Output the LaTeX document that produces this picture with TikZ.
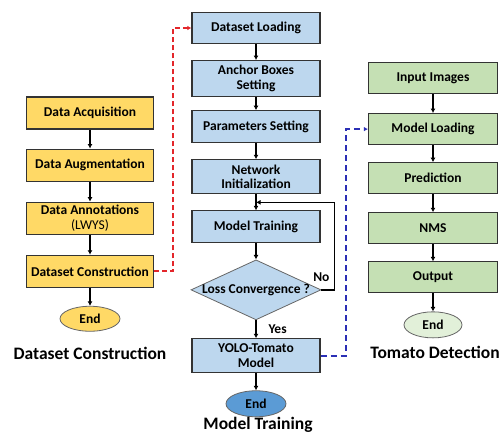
\documentclass[tikz,border=0pt]{standalone}
\usepackage{fontspec}
\setmainfont{Carlito}
\usetikzlibrary{arrows.meta,positioning,shapes.geometric,calc}
\definecolor{dcyellow}{HTML}{FFD966}
\definecolor{mtblue}{HTML}{BDD7EE}
\definecolor{mtend}{HTML}{5B9BD5}
\definecolor{tdgreen}{HTML}{C5E0B4}
\definecolor{tdend}{HTML}{E2F0D9}
\definecolor{linkred}{HTML}{E3262B}
\definecolor{linkblue}{HTML}{2B2FB5}

\begin{document}
\begin{tikzpicture}[x=1pt,y=-1pt,font=\bfseries\fontsize{13.5}{14.5}\selectfont,
  ybox/.style={draw=black!80,line width=1.1pt,fill=dcyellow,minimum width=127pt,minimum height=32pt,align=center,inner sep=1pt},
  bbox/.style={draw=black!80,line width=1.1pt,fill=mtblue,minimum width=128pt,minimum height=32pt,align=center,inner sep=1pt},
  gbox/.style={draw=black!80,line width=1.1pt,fill=tdgreen,minimum width=129pt,minimum height=31pt,align=center,inner sep=1pt},
  endnode/.style={ellipse,draw=black!60,line width=0.8pt,minimum width=60pt,minimum height=25pt,inner sep=0pt},
  dec/.style={diamond,draw=black!60,line width=0.8pt,fill=mtblue,minimum width=130pt,minimum height=60pt,inner sep=0pt},
  title/.style={font=\bfseries\fontsize{17.5}{19}\selectfont},
  flow/.style={line width=1.5pt,-{Latex[length=4.5pt,width=5pt]}}]
\useasboundingbox (0,0) rectangle (502,434);
% dataset construction
\node[ybox] (acq) at (90,113) {Data Acquisition};
\node[ybox,below=19pt of acq] (aug) {Data Augmentation};
\node[ybox,below=20pt of aug] (ann) {Data Annotations\\{\mdseries(LWYS)}};
\node[ybox,below=20pt of ann] (dcon) {Dataset Construction};
\node[endnode,fill=dcyellow,below=18pt of dcon] (end1) {End};
\node[title] (tdcon) at (90,353) {Dataset Construction};
% model training
\node[bbox,minimum height=31pt] (load) at (256,28) {Dataset Loading};
\node[bbox,below=16pt of load,minimum height=36pt] (anchor) {Anchor Boxes\\Setting};
\node[bbox,below=13pt of anchor] (param) {Parameters Setting};
\node[bbox,below=16pt of param,minimum height=34pt] (net) {Network\\Initialization};
\node[bbox,below=16pt of net] (train) {Model Training};
\node[dec,below=16pt of train] (conv) {\makebox[0pt]{Loss Convergence ?}};
\node[bbox,below=18pt of conv,minimum height=34pt] (yolo) {YOLO-Tomato\\Model};
\node[endnode,fill=mtend,below=17pt of yolo,minimum height=26pt] (end2) {End};
\node[title] (ttrain) at (258,425) {Model Training};
% tomato detection
\node[gbox] (inp) at (433,78) {Input Images};
\node[gbox,below=19pt of inp] (mload) {Model Loading};
\node[gbox,below=17pt of mload] (pred) {Prediction};
\node[gbox,below=18pt of pred] (nms) {NMS};
\node[gbox,below=17pt of nms] (out) {Output};
\node[endnode,fill=tdend,below=18pt of out,minimum width=58pt,minimum height=26pt] (end3) {End};
\node[title] (tdet) at (435,352) {Tomato Detection};
% arrows
\draw[flow] (acq) -- (aug);
\draw[flow] (aug) -- (ann);
\draw[flow] (ann) -- (dcon);
\draw[flow] (dcon) -- (end1);
\draw[flow] (load) -- (anchor);
\draw[flow] (anchor) -- (param);
\draw[flow] (param) -- (net);
\draw[flow] (net) -- (train);
\draw[flow] (train) -- (conv);
\draw[flow] (conv) -- (yolo);
\draw[flow] (yolo) -- (end2);
\draw[flow] (inp) -- (mload);
\draw[flow] (mload) -- (pred);
\draw[flow] (pred) -- (nms);
\draw[flow] (nms) -- (out);
\draw[flow] (out) -- (end3);
\coordinate (loopin) at ($(net.south)!0.5!(train.north)$);
\draw[flow] (conv.east) -- ++(13,0) |- (loopin);
\node (nolbl) at ($(conv.east)+(0,-13)$) {No};
\node[right=9pt] (yeslbl) at ($(conv.south)!0.5!(yolo.north)$) {Yes};
% links between stages
\draw[linkred,line width=2pt,dash pattern=on 5pt off 3pt,-{Latex[length=4pt,width=4.5pt]}] (dcon.east) -- ++(19,0) |- (load.west);
\draw[linkblue,line width=2pt,dash pattern=on 6pt off 4pt,-{Latex[length=4pt,width=4.5pt]}] (yolo.east) -- ++(25,0) |- (mload.west);
\end{tikzpicture}
\end{document}
